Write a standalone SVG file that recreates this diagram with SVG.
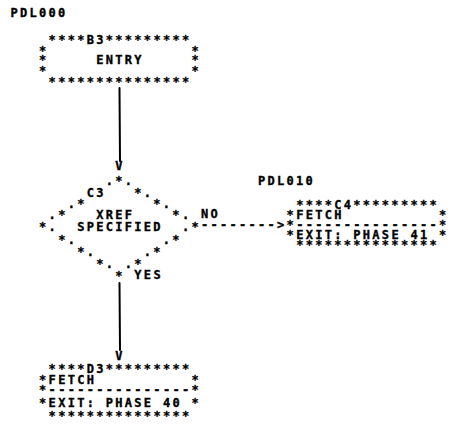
<svg xmlns="http://www.w3.org/2000/svg" width="457" height="428" viewBox="0 0 457 428" xml:space="preserve">
<style>
text{font-family:"DejaVu Sans Mono","Liberation Mono",monospace;font-weight:bold;font-size:12px;letter-spacing:2.3px;fill:#000;stroke:#000;stroke-width:0.35px;white-space:pre}
.ln{stroke:#000;stroke-width:2;fill:none;stroke-linecap:round}
</style>
<rect x="0" y="0" width="457" height="428" fill="#fff"/>
<g id="label-pdl000"><text x="10.5" y="17">PDL000</text></g>
<g id="label-pdl010"><text x="258" y="185">PDL010</text></g>
<g id="B3">
<text><tspan x="48.61" y="44">****B3*********</tspan><tspan x="39.09" y="54.5">*</tspan><tspan x="191.41" y="54.5">*</tspan><tspan x="39.09" y="64">*</tspan><tspan x="96.21" y="64">ENTRY</tspan><tspan x="191.41" y="64">*</tspan><tspan x="39.09" y="75">*</tspan><tspan x="191.41" y="75">*</tspan><tspan x="48.61" y="85.5">***************</tspan></text>
</g>
<g id="C3">
<text><tspan x="105.73" y="185">.*.</tspan><tspan x="86.69" y="196.5">C3</tspan><tspan x="134.29" y="196.5">*.</tspan><tspan x="67.65" y="208">.*</tspan><tspan x="153.33" y="208">*.</tspan><tspan x="48.61" y="218.5">.*</tspan><tspan x="96.21" y="218.5">XREF</tspan><tspan x="172.37" y="218.5">*.</tspan><tspan x="39.09" y="230.5">*.</tspan><tspan x="77.17" y="230.5">SPECIFIED</tspan><tspan x="181.89" y="230.5">.*</tspan><tspan x="58.13" y="243.5">*.</tspan><tspan x="162.85" y="243.5">.*</tspan><tspan x="77.17" y="256">*.</tspan><tspan x="143.81" y="256">.*</tspan><tspan x="96.21" y="268">*.</tspan><tspan x="124.77" y="268">.*</tspan><tspan x="115.25" y="279.5">*</tspan></text>
</g>
<g id="C4">
<text><tspan x="296.13" y="208.5">****C4*********</tspan><tspan x="286.61" y="218.5">*FETCH</tspan><tspan x="438.93" y="218.5">*</tspan><tspan x="286.61" y="228.5">*---------------*</tspan><tspan x="286.61" y="238.5">*EXIT: PHASE 41</tspan><tspan x="438.93" y="238.5">*</tspan><tspan x="296.13" y="249">***************</tspan></text>
</g>
<g id="D3">
<text><tspan x="48.61" y="373">****D3*********</tspan><tspan x="39.09" y="383.5">*FETCH</tspan><tspan x="191.41" y="383.5">*</tspan><tspan x="39.09" y="394">*---------------*</tspan><tspan x="39.09" y="407">*EXIT: PHASE 40</tspan><tspan x="191.41" y="407">*</tspan><tspan x="48.61" y="420">***************</tspan></text>
</g>
<g id="connectors">
<path class="ln" d="M119.5 88 L120 161"/>
<text x="115.25" y="170">V</text>
<path class="ln" d="M119.5 283 L120 350"/>
<text x="115.25" y="360">V</text>
<text x="200.93" y="228.5">--------&gt;</text>
<text x="200.93" y="218">NO</text>
<text x="134.33" y="279">YES</text>
</g>
</svg>
